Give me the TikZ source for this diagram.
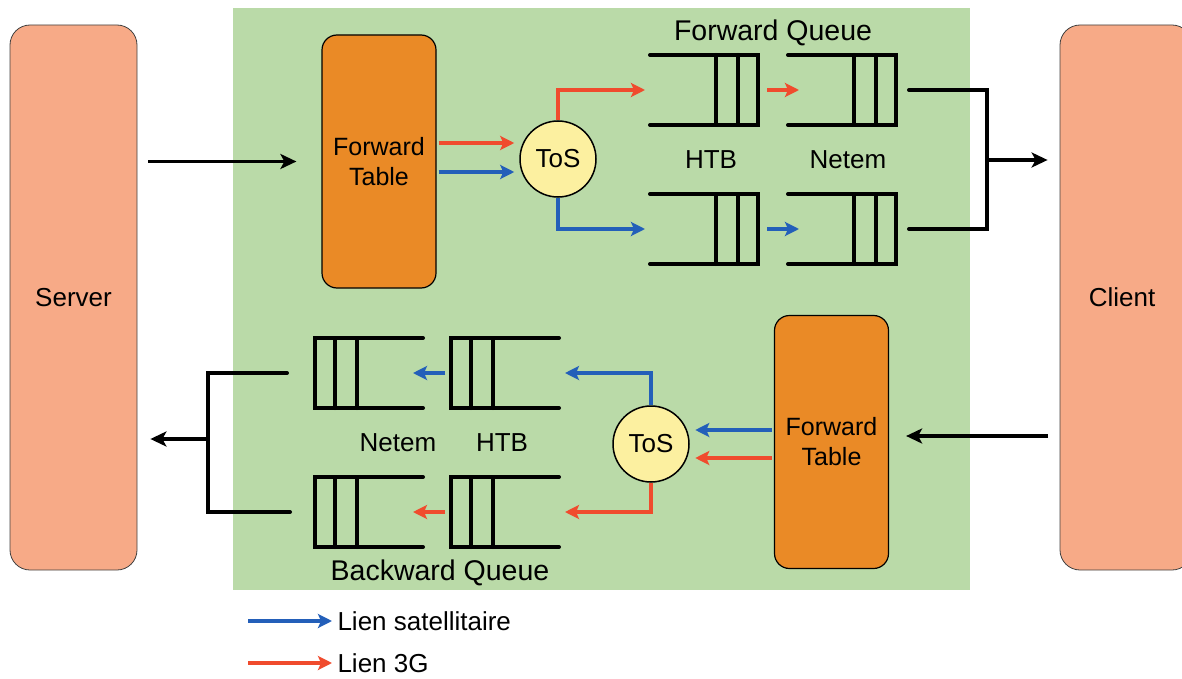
\documentclass[tikz,border=0pt]{standalone}
\usepackage{fontspec}
\setmainfont{Liberation Sans}
\usetikzlibrary{arrows.meta}
\definecolor{bggreen}{RGB}{186,218,168}
\definecolor{salmonbox}{RGB}{247,170,135}
\definecolor{orangebox}{RGB}{234,138,38}
\definecolor{tosfill}{RGB}{252,240,160}
\definecolor{redl}{RGB}{240,75,45}
\definecolor{bluel}{RGB}{35,95,185}
\begin{document}
\begin{tikzpicture}[x=1pt,y=-1pt,
  txt/.style={font=\fontsize{26}{30}\selectfont},
  ttl/.style={font=\fontsize{28.5}{32}\selectfont},
  qline/.style={line width=4pt, line cap=round},
  blk/.style={line width=3.6pt, -{Stealth[length=16pt,width=15pt,inset=4pt]}},
  redarr/.style={draw=redl, line width=3.8pt, -{Stealth[length=14pt,width=14pt,inset=3pt]}},
  bluearr/.style={draw=bluel, line width=3.8pt, -{Stealth[length=14pt,width=14pt,inset=3pt]}},
  endbox/.style={draw=black!75, line width=0.8pt, fill=salmonbox, rounded corners=20pt, minimum width=127pt, minimum height=545pt, txt},
  ftable/.style={draw=black, line width=1.2pt, fill=orangebox, rounded corners=15pt, minimum width=114pt, minimum height=253pt, align=center, font=\fontsize{25}{30}\selectfont},
  tos/.style={circle, draw=black, line width=1.5pt, fill=tosfill, minimum size=76pt, inner sep=0pt, txt},
  qR/.pic={\draw[qline] (-54,-35) -- (54,-35) -- (54,35) -- (-54,35);
           \draw[qline] (12,-35) -- (12,35) (34,-35) -- (34,35);
           \coordinate (-in) at (-54,0); \coordinate (-out) at (54,0);},
  qL/.pic={\draw[qline] (54,-35) -- (-54,-35) -- (-54,35) -- (54,35);
           \draw[qline] (-12,-35) -- (-12,35) (-34,-35) -- (-34,35);
           \coordinate (-in) at (54,0); \coordinate (-out) at (-54,0);}
]
\useasboundingbox (0,0) rectangle (1182,679);
\fill[bggreen] (233,8) rectangle (970,590);

% end boxes
\node[endbox] (server) at (73.5,297.5) {Server};
\node[endbox, minimum width=132pt] (client) at (1126,297.5) {\hspace*{-8pt}Client};

% forward tables
\node[ftable] (ft1) at (379,161.5) {Forward\\Table};
\node[ftable] (ft2) at (831.5,442) {Forward\\Table};

% ToS
\node[tos] (tos1) at (558,159) {ToS};
\node[tos] (tos2) at (651,444) {ToS};

% forward queues
\pic (htbA) at (704,90) {qR};
\pic (netA) at (842,90) {qR};
\pic (htbC) at (704,229) {qR};
\pic (netC) at (842,229) {qR};
% backward queues
\pic (htbB) at (505,373) {qL};
\pic (netB) at (369,373) {qL};
\pic (htbD) at (505,512) {qL};
\pic (netD) at (369,512) {qL};

% labels
\node[ttl] (lfq) at (773,33) {Forward Queue};
\node[txt] (lhtbA) at (711,160) {HTB};
\node[txt] (lnetA) at (848,160) {Netem};
\node[txt] (lnetB) at (398,443) {Netem};
\node[txt] (lhtbB) at (502,443) {HTB};
\node[ttl] (lbq) at (440,573) {Backward Queue};

% server -> forward table
\draw[blk, shorten <=11pt, shorten >=25pt] (server.east |- ft1.west) -- (ft1.west);
% forward table -> ToS
\draw[redarr, shorten <=2pt, shorten >=5pt] (ft1.east |- 0,143) -- (tos1.west |- 0,143);
\draw[bluearr, shorten <=2pt, shorten >=5pt] (ft1.east |- 0,172) -- (tos1.west |- 0,172);
% ToS -> HTB
\draw[redarr, shorten >=5pt] (tos1.north) |- (htbA-in);
\draw[bluearr, shorten >=5pt] (tos1.south) |- (htbC-in);
% HTB -> Netem
\draw[redarr, shorten <=9pt, shorten >=-11pt] (htbA-out) -- (netA-in);
\draw[bluearr, shorten <=9pt, shorten >=-11pt] (htbC-out) -- (netC-in);
% merge to client
\coordinate (jR) at (987,160);
\draw[qline] ([xshift=13pt]netA-out) -| (jR) |- ([xshift=13pt]netC-out);
\draw[blk, shorten >=12pt] (jR) -- (client.west |- jR);

% client -> forward table
\coordinate (cl) at (1048,436);
\draw[blk, shorten >=17pt] (cl) -- (ft2.east |- cl);
% forward table -> ToS
\draw[bluearr, shorten <=2pt, shorten >=5.5pt] (ft2.west |- 0,430) -- (tos2.east |- 0,430);
\draw[redarr, shorten <=2pt, shorten >=5.5pt] (ft2.west |- 0,458) -- (tos2.east |- 0,458);
% ToS -> HTB
\draw[bluearr, shorten >=6pt] (tos2.north) |- (htbB-in);
\draw[redarr, shorten >=6pt] (tos2.south) |- (htbD-in);
% HTB -> Netem
\draw[bluearr, shorten <=6pt, shorten >=-10pt] (htbB-out) -- (netB-in);
\draw[redarr, shorten <=6pt, shorten >=-10pt] (htbD-out) -- (netD-in);
% merge to server
\coordinate (jL) at (208,439);
\draw[qline] ([xshift=-28pt]netB-out) -| (jL) |- ([xshift=-25pt]netD-out);
\draw[blk, shorten >=13pt] (jL) -- (server.east |- jL);

% legend
\node[txt, anchor=west] (lg1) at (334,621) {Lien satellitaire};
\node[txt, anchor=west] (lg2) at (334,663) {Lien 3G};
\coordinate (lb) at (248,621);
\coordinate (lr) at (248,663);
\draw[bluearr, shorten >=2pt] (lb) -- (lg1.west);
\draw[redarr, shorten >=2pt] (lr) -- (lg2.west);
\end{tikzpicture}
\end{document}
